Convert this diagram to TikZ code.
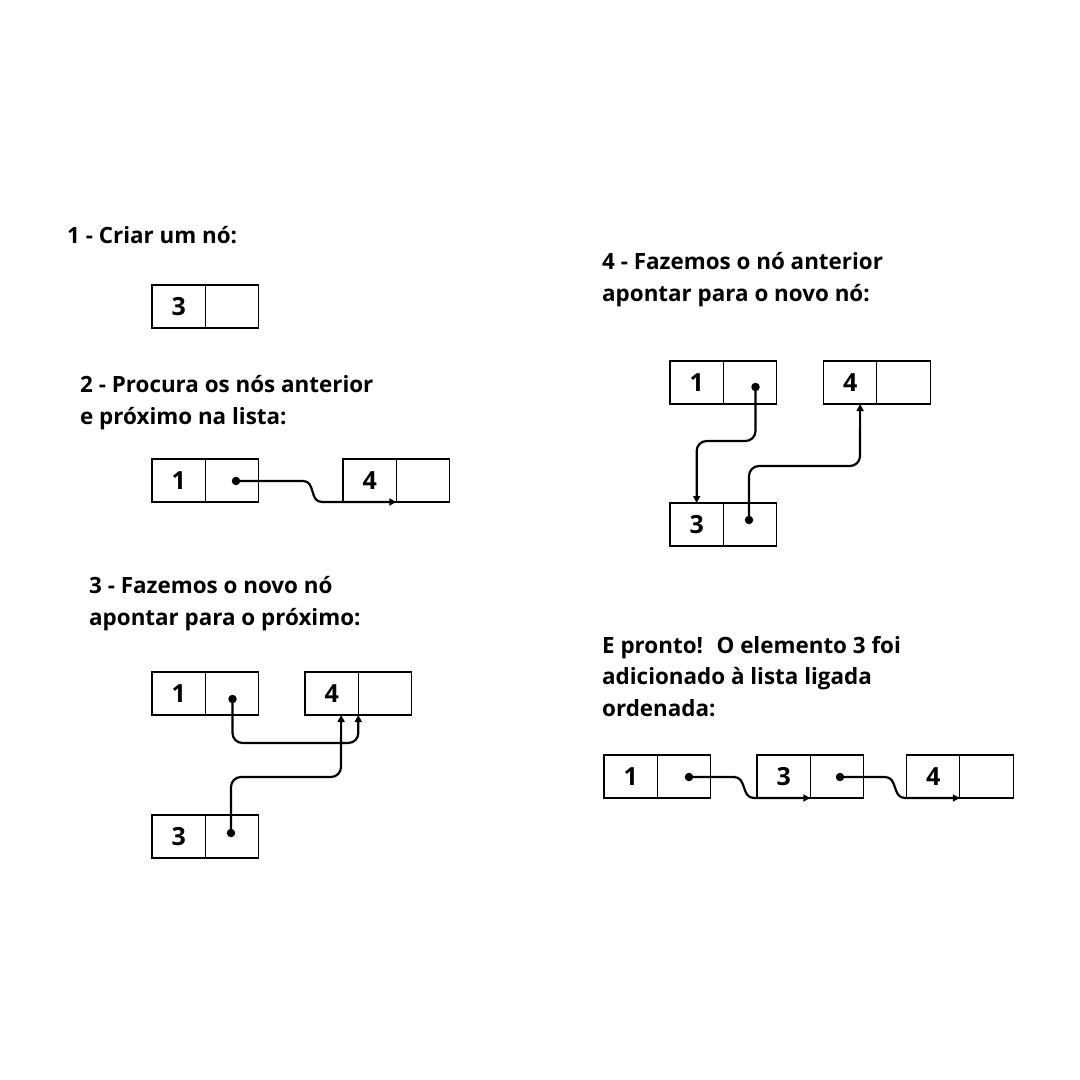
\documentclass[tikz,border=0pt]{standalone}
\usepackage{fontspec}
\setmainfont{Open Sans}
\usetikzlibrary{arrows.meta,calc}
\begin{document}
\begin{tikzpicture}[x=1pt,y=-1pt,
  cell/.style={draw=black,line width=1.1pt,outer sep=0pt,minimum width=53.3pt,minimum height=43pt,inner sep=0pt,anchor=north west,font=\fontsize{25}{28}\selectfont\bfseries},
  title/.style={anchor=base west,inner sep=0pt,align=left,font=\fontsize{22.4}{31.5}\selectfont\bfseries},
  dot/.style={circle,fill=black,inner sep=0pt,minimum size=8.5pt},
  ptr/.style={line width=2.2pt,-{Triangle[length=7pt,width=7pt]},rounded corners=10pt}]
\useasboundingbox (0,0) rectangle (1080,1080);
% step 1
\node[title] (t1) at (67,243) {1 - Criar um nó:};
\node[cell] (s1v3) at (152,285) {3};
\node[cell] (s1p3) at (s1v3.north east) {};
% step 2
\node[title] (t2) at (80,424) {2 - Procura os nós anterior\\e próximo na lista:};
\node[cell] (s2v1) at (152,459) {1};
\node[cell] (s2p1) at (s2v1.north east) {};
\node[cell] (s2v4) at (343,459) {4};
\node[cell] (s2p4) at (s2v4.north east) {};
\node[dot] (d21) at (236,481) {};
\draw[ptr,rounded corners=0pt] (d21.center) -- (303,481) .. controls (316,481) and (309,502) .. (322,502) -- (s2v4.south east);
% step 3
\node[title] (t3) at (89,625) {3 - Fazemos o novo nó\\apontar para o próximo:};
\node[cell] (s3v1) at (152,672) {1};
\node[cell] (s3p1) at (s3v1.north east) {};
\node[cell] (s3v4) at (305,672) {4};
\node[cell] (s3p4) at (s3v4.north east) {};
\node[cell] (s3v3) at (152,815) {3};
\node[cell] (s3p3) at (s3v3.north east) {};
\node[dot] (d31) at (232.5,699) {};
\node[dot] (d33) at (231,833) {};
\draw[ptr] (d31.center) -- (232.5,743) -- (358.3,743) -- (s3v4.south east);
\draw[ptr] (d33.center) -- (231,777) -- (341,777) -- ([xshift=9.5pt]s3v4.south);
% step 4
\node[title] (t4) at (602,301) {4 - Fazemos o nó anterior\\apontar para o novo nó:};
\node[cell] (s4v1) at (670,361) {1};
\node[cell] (s4p1) at (s4v1.north east) {};
\node[cell] (s4v4) at (823.5,361) {4};
\node[cell] (s4p4) at (s4v4.north east) {};
\node[cell] (s4v3) at (670,503) {3};
\node[cell] (s4p3) at (s4v3.north east) {};
\node[dot] (d41) at (755.5,387) {};
\node[dot] (d43) at (749,520) {};
\draw[ptr] (d41.center) -- (755.5,441) -- (696.65,441) -- (s4v3.north);
\draw[ptr] (d43.center) -- (749,466) -- (860,466) -- ([xshift=10pt]s4v4.south);
% final
\node[title] (t5) at (602,716) {E pronto!~ O elemento 3 foi\\adicionado à lista ligada\\ordenada:};
\node[cell] (s5v1) at (604,755) {1};
\node[cell] (s5p1) at (s5v1.north east) {};
\node[cell] (s5v3) at (757,755) {3};
\node[cell] (s5p3) at (s5v3.north east) {};
\node[cell] (s5v4) at (906.5,755) {4};
\node[cell] (s5p4) at (s5v4.north east) {};
\node[dot] (d51) at (689,777) {};
\node[dot] (d53) at (840,777) {};
\draw[ptr,rounded corners=0pt] (d51.center) -- (734,777) .. controls (747,777) and (741,798) .. (754,798) -- (s5v3.south east);
\draw[ptr,rounded corners=0pt] (d53.center) -- (885,777) .. controls (898,777) and (892,798) .. (905,798) -- (s5v4.south east);
\end{tikzpicture}
\end{document}
